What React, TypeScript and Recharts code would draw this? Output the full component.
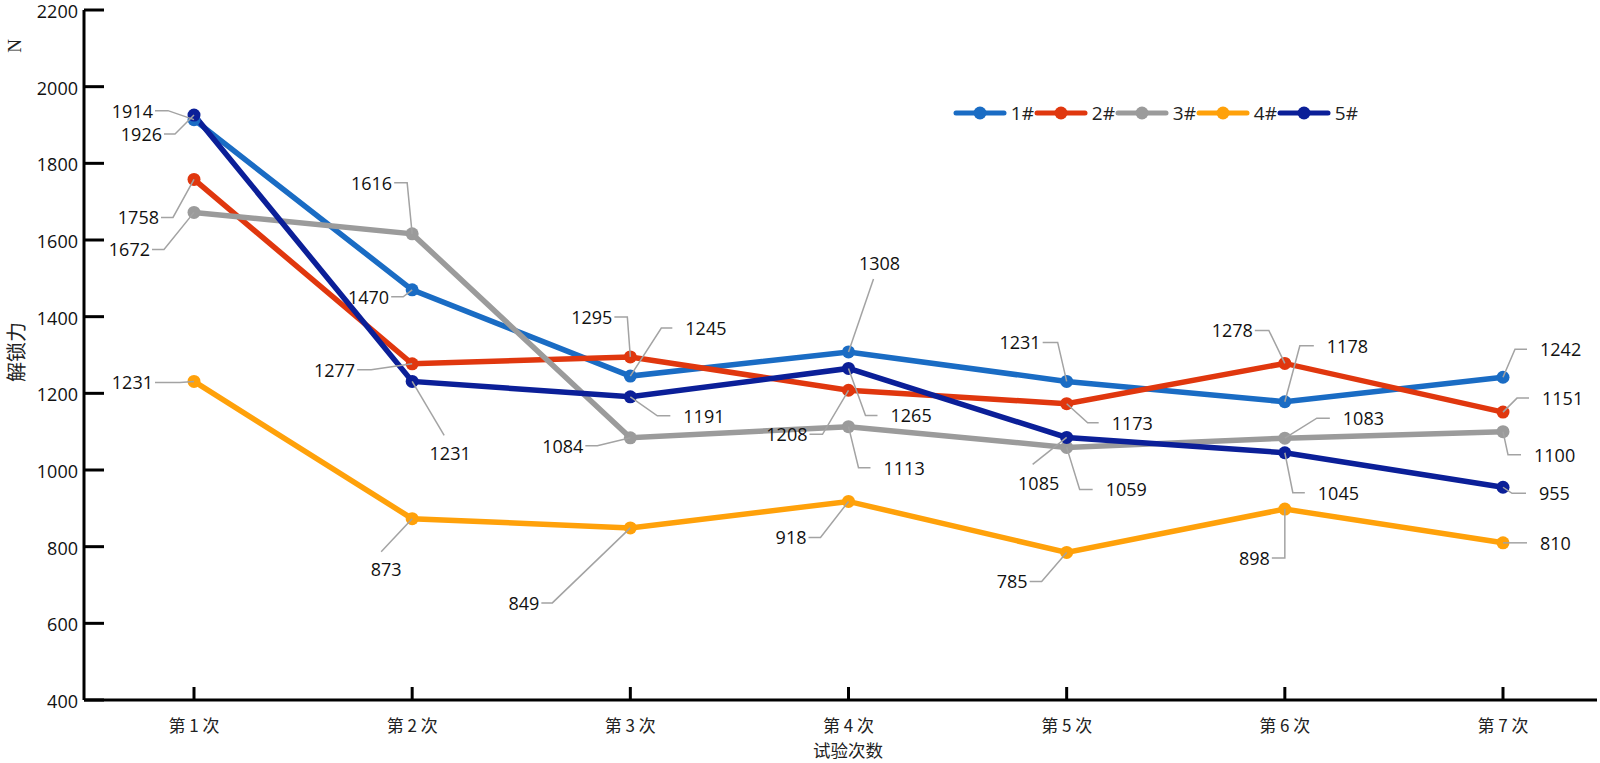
import { LineChart, Line, XAxis, YAxis, Legend, LabelList } from "recharts";

const CATEGORIES = ["第 1 次", "第 2 次", "第 3 次", "第 4 次", "第 5 次", "第 6 次", "第 7 次"];
const S1 = [1914, 1470, 1245, 1308, 1231, 1178, 1242];
const S2 = [1758, 1277, 1295, 1208, 1173, 1278, 1151];
const S3 = [1672, 1616, 1084, 1113, 1059, 1083, 1100];
const S4 = [1231, 873, 849, 918, 785, 898, 810];
const S5 = [1926, 1231, 1191, 1265, 1085, 1045, 955];
const Y_TICKS = [400, 600, 800, 1000, 1200, 1400, 1600, 1800, 2000, 2200];

const FONT = '"Open Sans", "Noto Sans", sans-serif';
const CJK = '"Noto Sans CJK SC", sans-serif';
const LEADER = "#a3a3a3";

const SERIES = [
  { key: "s1", name: "1#", color: "#1a6cc4", values: S1 },
  { key: "s2", name: "2#", color: "#e0370e", values: S2 },
  { key: "s3", name: "3#", color: "#9b9b9b", values: S3 },
  { key: "s4", name: "4#", color: "#ffa10a", values: S4 },
  { key: "s5", name: "5#", color: "#0b1f98", values: S5 },
];

// leader-line layout per point: elbow offset (ex, ey) from the dot, then either
// a horizontal run h with text beside it, or text centred at (tx, ty)
type Lay = { ex: number; ey: number; h?: number; tx?: number; ty?: number };

const LAYOUT: Lay[][] = [
  [
    { ex: -26, ey: -9, h: -13 },
    { ex: -9, ey: 7, h: -12 },
    { ex: 31, ey: -48, h: 11 },
    { ex: 25, ey: -73, tx: 31, ty: -89 },
    { ex: -9, ey: -39, h: -15 },
    { ex: 15, ey: -56, h: 14 },
    { ex: 12, ey: -28, h: 12 },
  ],
  [
    { ex: -21, ey: 38, h: -12 },
    { ex: -41, ey: 6, h: -14 },
    { ex: -3, ey: -40, h: -13 },
    { ex: -26, ey: 44, h: -13 },
    { ex: 21, ey: 19, h: 11 },
    { ex: -16, ey: -33, h: -14 },
    { ex: 14, ey: -14, h: 12 },
  ],
  [
    { ex: -30, ey: 37, h: -12 },
    { ex: -5, ey: -51, h: -13 },
    { ex: -33, ey: 8, h: -12 },
    { ex: 10, ey: 41, h: 12 },
    { ex: 13, ey: 42, h: 13 },
    { ex: 32, ey: -20, h: 13 },
    { ex: 5, ey: 23, h: 13 },
  ],
  [
    { ex: -14, ey: 1, h: -25 },
    { ex: -31, ey: 33, tx: -26, ty: 50 },
    { ex: -78, ey: 75, h: -11 },
    { ex: -28, ey: 36, h: -12 },
    { ex: -25, ey: 29, h: -12 },
    { ex: 0, ey: 49, h: -13 },
    { ex: 10, ey: 0, h: 14 },
  ],
  [
    { ex: -19, ey: 19, h: -11 },
    { ex: 32, ey: 54, tx: 38, ty: 72 },
    { ex: 27, ey: 19, h: 13 },
    { ex: 17, ey: 47, h: 12 },
    { ex: -34, ey: 27, tx: -28, ty: 46 },
    { ex: 8, ey: 40, h: 12 },
    { ex: 9, ey: 6, h: 14 },
  ],
];

const data = CATEGORIES.map((name, i) => {
  const row: Record<string, any> = { name };
  SERIES.forEach((s) => (row[s.key] = s.values[i]));
  return row;
});

const labelText = { fontFamily: FONT, fontSize: 18, fill: "#111" };

function makeLabel(si: number) {
  return (props: any) => {
    const { x, y, value, index } = props;
    const lay = LAYOUT[si]?.[index];
    if (!lay || x == null || y == null) return null;
    const ex = x + lay.ex;
    const ey = y + lay.ey;
    if (lay.h === undefined) {
      return (
        <g>
          <line x1={x} y1={y} x2={ex} y2={ey} stroke={LEADER} strokeWidth={1.5} />
          <text
            x={x + (lay.tx ?? 0)}
            y={y + (lay.ty ?? 0)}
            textAnchor="middle"
            dominantBaseline="central"
            {...labelText}
          >
            {value}
          </text>
        </g>
      );
    }
    const hx = ex + lay.h;
    const left = lay.h < 0;
    return (
      <g>
        <polyline
          points={`${x},${y} ${ex},${ey} ${hx},${ey}`}
          fill="none"
          stroke={LEADER}
          strokeWidth={1.5}
        />
        <text
          x={left ? hx - 2 : hx + 13}
          y={ey}
          textAnchor={left ? "end" : "start"}
          dominantBaseline="central"
          {...labelText}
        >
          {value}
        </text>
      </g>
    );
  };
}

function YTick({ x, y, payload }: any) {
  return (
    <g>
      <line x1={x + 6} x2={x + 26} y1={y} y2={y} stroke="#000" strokeWidth={3} />
      <text x={x} y={y + 1} textAnchor="end" dominantBaseline="central" fontFamily={FONT} fontSize={18} fill="#111">
        {payload.value}
      </text>
    </g>
  );
}

function XTick({ x, y, payload }: any) {
  return (
    <g>
      <line x1={x} x2={x} y1={y} y2={y - 13} stroke="#000" strokeWidth={3} />
      <text x={x} y={y + 24} textAnchor="middle" dominantBaseline="central" fontFamily={CJK} fontSize={17} fill="#222">
        {payload.value}
      </text>
    </g>
  );
}

const renderLegend = (props: any) => {
  const items = props.payload ?? [];
  return (
    <div style={{ display: "flex", fontFamily: FONT, fontSize: 19, color: "#222", lineHeight: "20px" }}>
      {items.map((it: any) => (
        <div key={it.value} style={{ display: "flex", alignItems: "center", width: 81 }}>
          <svg width={61} height={16} style={{ display: "block" }}>
            <line x1={3} x2={51} y1={8} y2={8} stroke={it.color} strokeWidth={5} strokeLinecap="round" />
            <circle cx={27} cy={8} r={6.5} fill={it.color} />
          </svg>
          <span>{it.value}</span>
        </div>
      ))}
    </div>
  );
};

export default function App() {
  return (
    <div style={{ position: "fixed", left: 0, top: 0, width: 1600, height: 763, background: "#fff" }}>
      <LineChart width={1600} height={763} data={data} margin={{ top: 10, right: 3, left: 0, bottom: 0 }}>
        <XAxis
          dataKey="name"
          height={63}
          padding={{ left: 110, right: 94 }}
          axisLine={{ stroke: "#000", strokeWidth: 3 }}
          tickLine={false}
          tickSize={0}
          tickMargin={0}
          tick={<XTick />}
          interval={0}
          label={{
            content: ({ viewBox }: any) => (
              <text
                x={viewBox.x + 764}
                y={viewBox.y + 49.5}
                textAnchor="middle"
                dominantBaseline="central"
                fontFamily={CJK}
                fontSize={17.5}
                fill="#222"
              >
                试验次数
              </text>
            ),
          }}
        />
        <YAxis
          width={84}
          domain={[400, 2200]}
          ticks={Y_TICKS}
          interval={0}
          axisLine={{ stroke: "#000", strokeWidth: 3 }}
          tickLine={false}
          tickSize={0}
          tickMargin={6}
          tick={<YTick />}
          label={{
            content: ({ viewBox }: any) => (
              <g>
                <text
                  transform={`translate(${viewBox.x + 14}, ${viewBox.y + 36}) rotate(-90)`}
                  textAnchor="middle"
                  dominantBaseline="central"
                  fontFamily='"Liberation Serif", serif'
                  fontSize={19}
                  fill="#222"
                >
                  N
                </text>
                <text
                  transform={`translate(${viewBox.x + 15}, ${viewBox.y + 342}) rotate(-90)`}
                  textAnchor="middle"
                  dominantBaseline="central"
                  fontFamily={CJK}
                  fontSize={20}
                  fill="#222"
                >
                  解锁力
                </text>
              </g>
            ),
          }}
        />
        <Legend
          layout="horizontal"
          verticalAlign="middle"
          content={renderLegend}
          wrapperStyle={{ left: 953, top: 103, width: "auto" }}
        />
        {SERIES.map((s, si) => (
          <Line
            key={s.key}
            type="linear"
            dataKey={s.key}
            name={s.name}
            stroke={s.color}
            strokeWidth={5.5}
            dot={{ r: 6.5, fill: s.color, stroke: s.color, strokeWidth: 0 }}
            activeDot={false}
            isAnimationActive={false}
          >
            <LabelList dataKey={s.key} content={makeLabel(si)} />
          </Line>
        ))}
      </LineChart>
    </div>
  );
}
